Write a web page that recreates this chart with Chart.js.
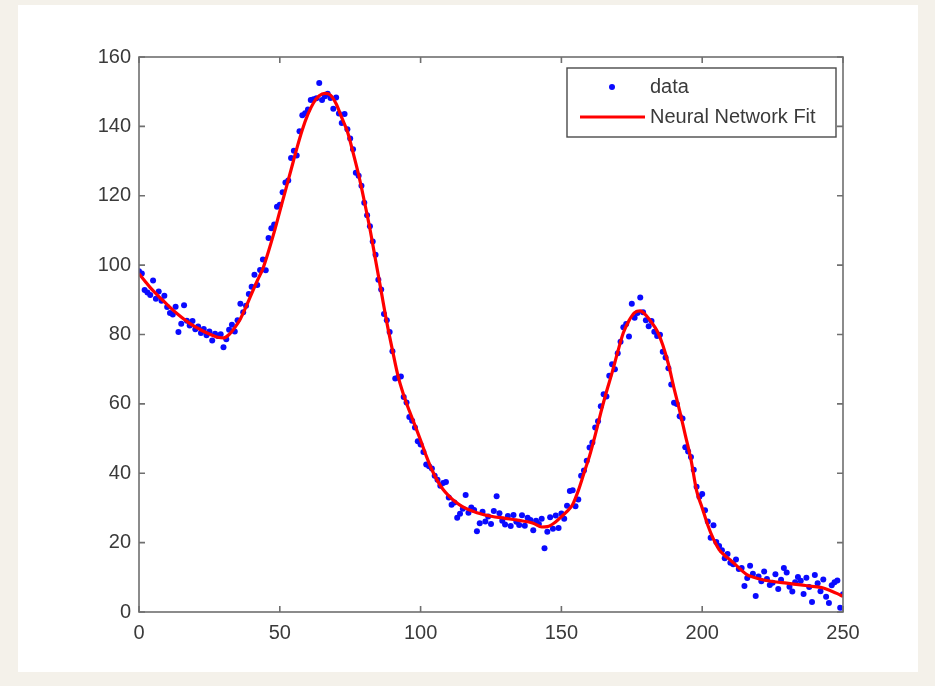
<!DOCTYPE html>
<html>
<head>
<meta charset="utf-8">
<script src="https://cdn.jsdelivr.net/npm/chart.js@4.4.1/dist/chart.umd.min.js"></script>
<style>
  html, body { margin: 0; padding: 0; background: #f4f1ea; }
  #wrap { width: 935px; height: 686px; }
</style>
</head>
<body>
<div id="wrap"><canvas id="c" width="935" height="686"></canvas></div>
<script>
// Measured samples, one per x = 0 .. 250
const dataY = [
  98.2, 97.6, 92.8, 92.1, 91.4, 95.6, 90.3, 92.4, 89.7, 91.2,
  87.9, 86.2, 85.8, 88.0, 80.7, 83.1, 88.4, 84.0, 82.6, 83.9,
  81.5, 82.3, 80.4, 81.6, 79.8, 80.9, 78.3, 80.2, 79.6, 80.1,
  76.3, 78.6, 81.4, 82.8, 80.9, 84.1, 88.9, 86.4, 88.3, 91.7,
  93.8, 97.2, 94.3, 98.6, 101.6, 98.5, 107.8, 110.6, 111.7, 116.8,
  117.4, 121.0, 123.8, 124.4, 130.9, 133.0, 131.6, 138.6, 143.2, 143.8,
  144.9, 147.6, 147.8, 148.1, 152.5, 147.6, 148.7, 149.4, 148.2, 145.1,
  148.3, 143.7, 141.0, 143.6, 139.2, 136.5, 133.4, 126.6, 125.8, 122.9,
  118.0, 114.4, 111.2, 106.8, 103.0, 95.8, 93.0, 85.9, 84.1, 80.7,
  75.2, 67.3, 67.6, 67.9, 62.0, 60.4, 56.2, 55.1, 53.2, 49.2,
  48.3, 46.1, 42.5, 42.0, 41.4, 39.3, 38.1, 36.4, 37.2, 37.5,
  33.0, 30.9, 31.6, 27.2, 28.3, 29.8, 33.7, 28.6, 30.1, 29.4,
  23.3, 25.6, 28.9, 26.1, 27.5, 25.4, 29.1, 33.4, 28.5, 26.3,
  25.2, 27.7, 24.8, 28.0, 26.0, 25.1, 27.9, 24.9, 27.2, 26.5,
  23.6, 26.3, 25.4, 26.9, 18.4, 23.1, 27.3, 24.0, 27.8, 24.2,
  28.4, 26.9, 30.6, 34.9, 35.1, 30.5, 32.4, 39.3, 40.8, 43.6,
  47.4, 48.9, 53.2, 55.0, 59.3, 62.8, 62.1, 68.1, 71.4, 70.0,
  74.6, 77.9, 82.1, 83.0, 79.4, 88.9, 84.8, 86.2, 90.7, 86.4,
  84.1, 82.4, 83.9, 80.8, 79.6, 79.9, 75.0, 73.4, 70.3, 65.6,
  60.3, 60.0, 56.4, 55.8, 47.5, 46.3, 44.7, 41.0, 36.1, 33.2,
  34.0, 29.3, 26.1, 21.4, 25.0, 20.2, 19.0, 17.8, 15.5, 16.7,
  14.2, 13.8, 15.1, 12.4, 12.7, 7.5, 9.8, 13.3, 11.0, 4.6,
  10.2, 8.9, 11.7, 9.5, 7.8, 8.4, 10.9, 6.6, 9.3, 12.7,
  11.4, 7.3, 5.9, 8.6, 10.1, 9.0, 5.2, 9.9, 7.2, 2.9,
  10.7, 8.3, 6.0, 9.4, 4.4, 2.6, 7.7, 8.6, 9.1, 1.2,
  5.1
];

// Network response evaluated at these inputs
const fitX = [
  0, 2, 4, 6, 8, 10, 12, 14, 16, 18, 20, 22, 24, 26, 28, 30, 32, 34, 36, 38,
  40, 42, 44, 46, 48, 50, 52, 54, 56, 58, 60, 62, 64, 66, 68, 70, 72, 74, 76, 78,
  80, 82, 84, 86, 88, 90, 92, 94, 96, 98, 100, 102, 104, 106, 108, 110, 112, 115,
  120, 125, 130, 135, 140, 143, 145, 148, 150, 152, 154, 156, 158, 160, 162, 164,
  166, 168, 170, 172, 174, 176, 178, 180, 182, 184, 186, 188, 190, 192, 194, 196,
  198, 200, 202, 204, 206, 208, 210, 212, 214, 216, 218, 220, 225, 230, 235, 240,
  243, 246, 248, 250
];
const fitY = [
  97.5, 95.5, 93.5, 91.8, 90.2, 88.6, 87.1, 85.7, 84.4, 83.2, 82.2, 81.3, 80.5, 79.8, 79.2, 79.0, 80.0, 82.0, 84.5, 88.0,
  91.8, 95.5, 99.0, 104.0, 109.5, 115.5, 121.5, 127.5, 133.5, 139.0, 143.5, 146.8, 148.8, 149.5, 149.0, 146.5, 142.5, 138.5, 132.5, 126.0,
  118.5, 110.5, 101.5, 92.5, 83.5, 75.5, 68.0, 62.5, 58.0, 53.8, 49.5, 45.0, 41.0, 37.8, 35.3, 33.5, 32.0, 30.3,
  28.6, 27.6, 27.0, 26.4, 25.6, 24.5, 24.6, 26.0, 27.5, 29.0, 31.0, 35.0, 40.0, 45.0, 51.0, 57.5,
  63.5, 69.0, 75.0, 80.5, 84.0, 86.3, 86.8, 85.6, 83.5, 81.0, 77.0, 71.5, 64.5, 58.0, 51.0, 44.0,
  35.0, 30.0, 25.0, 21.0, 18.0, 16.3, 15.0, 13.5, 12.0, 10.7, 10.1, 9.6, 8.8, 8.3, 7.8, 7.3,
  6.9, 6.0, 5.3, 4.5
];

const xTicks = [0, 50, 100, 150, 200, 250];
const yTicks = [0, 20, 40, 60, 80, 100, 120, 140, 160];

const FONT = '"Liberation Sans", Arial, Helvetica, sans-serif';
const FONT_SIZE = 20;
const TEXT = '#3a3a3a';
const AXIS = '#6f6f6f';

// Page backdrop and the white figure panel
const panel = {
  id: 'panel',
  beforeDraw(chart) {
    const ctx = chart.ctx;
    ctx.save();
    ctx.fillStyle = '#f4f1ea';
    ctx.fillRect(0, 0, chart.width, chart.height);
    ctx.fillStyle = '#ffffff';
    ctx.fillRect(18, 5, 900, 667);
    ctx.restore();
  }
};

// Axes box with inward tick marks on all four sides
const axesBox = {
  id: 'axesBox',
  afterDatasetsDraw(chart) {
    const { ctx, chartArea: a, scales } = chart;
    ctx.save();
    ctx.strokeStyle = AXIS;
    ctx.lineWidth = 1.6;
    ctx.strokeRect(a.left, a.top, a.right - a.left, a.bottom - a.top);
    const tl = 6;
    ctx.beginPath();
    xTicks.forEach(v => {
      const px = scales.x.getPixelForValue(v);
      ctx.moveTo(px, a.bottom); ctx.lineTo(px, a.bottom - tl);
      ctx.moveTo(px, a.top); ctx.lineTo(px, a.top + tl);
    });
    yTicks.forEach(v => {
      const py = scales.y.getPixelForValue(v);
      ctx.moveTo(a.left, py); ctx.lineTo(a.left + tl, py);
      ctx.moveTo(a.right, py); ctx.lineTo(a.right - tl, py);
    });
    ctx.stroke();
    ctx.restore();
  }
};

// Boxed legend in the upper right of the axes
const boxLegend = {
  id: 'boxLegend',
  afterDraw(chart) {
    const { ctx, chartArea: a } = chart;
    const w = 269, h = 69;
    const x0 = a.right - 7 - w, y0 = a.top + 11;
    ctx.save();
    ctx.fillStyle = '#ffffff';
    ctx.fillRect(x0, y0, w, h);
    ctx.strokeStyle = '#4a4a4a';
    ctx.lineWidth = 1.4;
    ctx.strokeRect(x0, y0, w, h);
    ctx.font = FONT_SIZE + 'px ' + FONT;
    ctx.textBaseline = 'middle';
    const dsData = chart.data.datasets[0];
    const dsFit = chart.data.datasets[1];
    const row1 = y0 + 19, row2 = y0 + 49;
    ctx.fillStyle = dsData.backgroundColor;
    ctx.beginPath();
    ctx.arc(x0 + 45, row1, 3, 0, Math.PI * 2);
    ctx.fill();
    ctx.strokeStyle = dsFit.borderColor;
    ctx.lineWidth = dsFit.borderWidth;
    ctx.beginPath();
    ctx.moveTo(x0 + 13, row2); ctx.lineTo(x0 + 78, row2);
    ctx.stroke();
    ctx.fillStyle = TEXT;
    ctx.fillText(dsData.label, x0 + 83, row1);
    ctx.fillText(dsFit.label, x0 + 83, row2);
    ctx.restore();
  }
};

new Chart(document.getElementById('c'), {
  type: 'scatter',
  data: {
    datasets: [
      {
        label: 'data',
        data: dataY.map((y, i) => ({ x: i, y })),
        backgroundColor: '#0a0aff',
        borderWidth: 0,
        pointRadius: 3,
        pointHoverRadius: 3,
        order: 2
      },
      {
        label: 'Neural Network Fit',
        type: 'line',
        data: fitX.map((x, i) => ({ x, y: fitY[i] })),
        borderColor: '#ff0000',
        borderWidth: 3.2,
        pointRadius: 0,
        fill: false,
        cubicInterpolationMode: 'monotone',
        order: 1
      }
    ]
  },
  options: {
    responsive: false,
    animation: false,
    layout: { padding: { top: 57, right: 92, left: 0, bottom: 0 } },
    plugins: { legend: { display: false }, tooltip: { enabled: false } },
    scales: {
      x: {
        type: 'linear', min: 0, max: 250,
        afterBuildTicks(s) { s.ticks = xTicks.map(v => ({ value: v })); },
        afterFit(s) { s.height = 74; },
        grid: { display: false, drawTicks: false },
        border: { display: false },
        ticks: { color: TEXT, font: { family: FONT, size: FONT_SIZE }, padding: 9, maxRotation: 0 }
      },
      y: {
        type: 'linear', min: 0, max: 160,
        afterBuildTicks(s) { s.ticks = yTicks.map(v => ({ value: v })); },
        afterFit(s) { s.width = 139; },
        grid: { display: false, drawTicks: false },
        border: { display: false },
        ticks: { color: TEXT, font: { family: FONT, size: FONT_SIZE }, padding: 8 }
      }
    }
  },
  plugins: [panel, axesBox, boxLegend]
});
</script>
</body>
</html>
